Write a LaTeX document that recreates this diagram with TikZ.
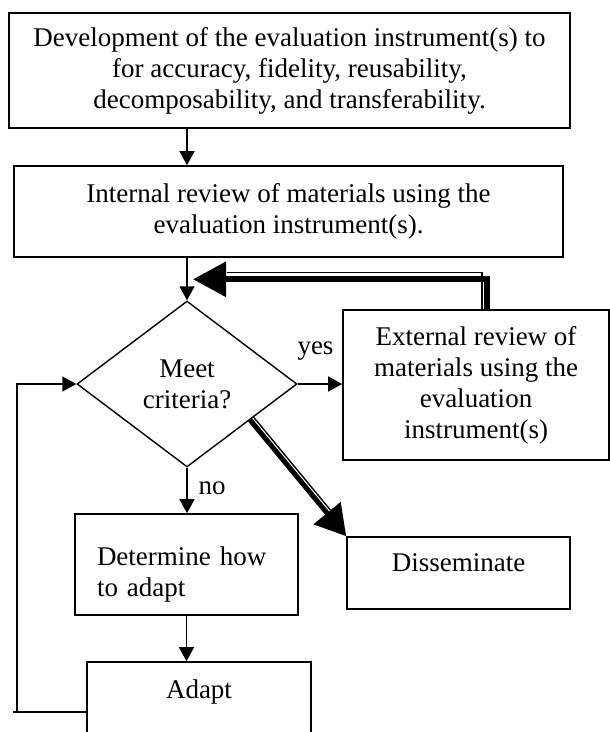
\documentclass[tikz,border=0pt]{standalone}
\usepackage{fontspec}
\setmainfont{Liberation Serif}
\usetikzlibrary{shapes.geometric,arrows.meta,calc}
\tikzset{
    plain-box/.style = {draw, rectangle, line width=1.6pt, inner sep=0pt, align=center, font=\fontsize{27}{31}\selectfont},
    decision-box/.style = {draw, diamond, line width=1.4pt, inner sep=0pt, align=center, font=\fontsize{27}{31}\selectfont, minimum width=220pt, minimum height=166pt},
    flow-label/.style = {inner sep=0pt, font=\fontsize{27}{31}\selectfont},
    thin-arrow/.style = {line width=1.4pt, -{Triangle[length=14pt,width=15pt]}},
    heavy-arrow/.style = {line width=6pt, -{Triangle[length=33pt,width=34pt]}},
    heavy-edge/.style = {line width=1.4pt},
}

\begin{document}
\begin{tikzpicture}[x=1pt, y=-1pt]
\useasboundingbox (0,0) rectangle (610,732);
\clip (0,0) rectangle (610,732);
\node [plain-box, minimum width=561pt, minimum height=115pt] (develop) at (289.5,70.5) {Development of the evaluation instrument(s) to\\ for accuracy, fidelity, reusability,\\ decomposability, and transferability.};
\node [plain-box, minimum width=549pt, minimum height=91pt] (internal) at (288.5,211.5) {Internal review of materials using the\\ evaluation instrument(s).};
\node [decision-box] (criteria) at (187,384) {Meet\\ criteria?};
\node [plain-box, minimum width=266pt, minimum height=150pt] (external) at (476,385) {External review of\\ materials using the\\ evaluation\\ instrument(s)};
\node [plain-box, minimum width=223pt, minimum height=72pt, text depth=20.5pt] (disseminate) at (458.5,573) {Disseminate};
\node [plain-box, minimum width=223pt, minimum height=101pt, text width=179pt, align=left, text depth=16pt] (determine) at (186.5,564.5) {Determine how\\ to adapt};
\node [plain-box, minimum width=224pt, minimum height=100pt, text depth=46pt] (adapt) at (199,712) {Adapt};

\draw [thin-arrow] (develop.south -| criteria.center) -- (internal.north -| criteria.center);
\draw [thin-arrow] (internal.south -| criteria.center) -- (criteria.north);
\draw [thin-arrow] (criteria.east) -- (criteria.east -| external.west) node [flow-label, pos=0.4, above=23pt] (yes) {yes};
\draw [thin-arrow] (criteria.south) -- (determine.north -| criteria.south) node [flow-label, pos=0.45, right=11pt] (no) {no};
\draw [thin-arrow] (determine.south) -- (determine.south |- adapt.north);

\coordinate (loop-corner) at (17,712);
\draw [heavy-edge] (adapt.west) -- ([xshift=-4pt]loop-corner);
\draw [thin-arrow] (loop-corner) |- (criteria.west);

\draw [heavy-edge] ($(external.north)+(6,0)$) |- ($(criteria.north)+(40,-28)$);
\draw [heavy-arrow] ($(external.north)+(11,0)$) |- ($(criteria.north)+(6,-21)$);

\coordinate (split) at ($(criteria.east)!0.43!(criteria.south)$);
\draw [heavy-arrow, line width=5pt, -{Triangle[length=30pt,width=34pt]}] (split) -- (disseminate.north west);
\draw [heavy-edge, shorten >=30pt] ($(split)!4.5pt!90:(disseminate.north west)$) -- ($(disseminate.north west)!4.5pt!-90:(split)$);
\end{tikzpicture}
\end{document}
